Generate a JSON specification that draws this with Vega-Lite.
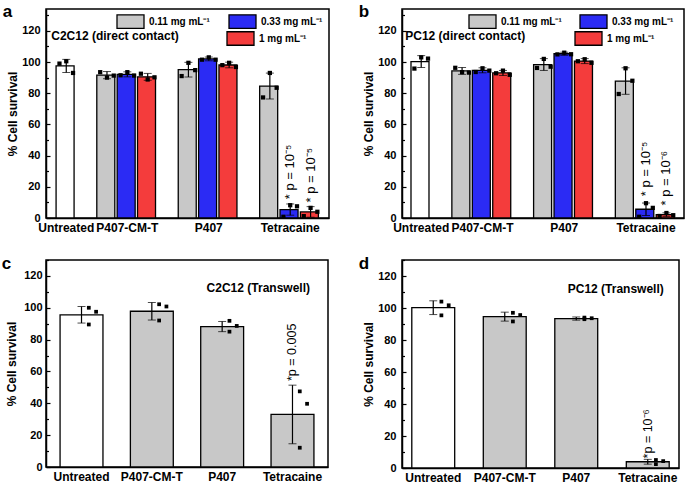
{
  "$schema": "https://vega.github.io/schema/vega-lite/v6.json",
  "background": "white",
  "padding": {"left": 0, "top": 2, "right": 2, "bottom": 0},
  "config": {
    "font": "Liberation Sans",
    "view": {"stroke": "black", "strokeWidth": 1.5},
    "axis": {"domainColor": "black", "domainWidth": 1.5, "tickColor": "black", "tickWidth": 1.2, "labelColor": "black", "labelFont": "Liberation Sans", "labelFontWeight": "bold", "labelFontSize": 11, "titleColor": "black", "titleFont": "Liberation Sans", "titleFontWeight": "bold", "titleFontSize": 12, "grid": false},
    "axisX": {"ticks": false, "labelAngle": 0, "labelFontSize": 12, "labelPadding": 4, "labelOverlap": false},
    "axisY": {"tickSize": -4, "labelPadding": 10, "titlePadding": 2},
    "legend": {"orient": "none", "title": null, "symbolType": "M-1,-0.5H1V0.5H-1Z", "symbolSize": 729, "symbolStrokeColor": "black", "symbolStrokeWidth": 1.3, "symbolOpacity": 1, "labelFontSize": 10, "labelFontWeight": "bold", "labelFont": "Liberation Sans", "labelColor": "black", "labelOffset": 4, "columnPadding": 16},
    "title": {"anchor": "start", "frame": "bounds", "fontSize": 17, "fontWeight": "bold", "font": "Liberation Sans", "color": "black", "offset": -14, "dx": -4}
  },
  "resolve": {"scale": {"color": "independent", "xOffset": "independent"}},
  "datasets": {
    "barsA": [
      {"g": "Untreated", "c": "Untreated", "m": 97.5, "e": 4.2},
      {"g": "P407-CM-T", "c": "0.11", "m": 91.6, "e": 2.3},
      {"g": "P407-CM-T", "c": "0.33", "m": 92.1, "e": 1.6},
      {"g": "P407-CM-T", "c": "1", "m": 90.5, "e": 2.2},
      {"g": "P407", "c": "0.11", "m": 95.1, "e": 4.7},
      {"g": "P407", "c": "0.33", "m": 102.0, "e": 1.2},
      {"g": "P407", "c": "1", "m": 98.1, "e": 1.8},
      {"g": "Tetracaine", "c": "0.11", "m": 84.6, "e": 8.3},
      {"g": "Tetracaine", "c": "0.33", "m": 5.4, "e": 3.6},
      {"g": "Tetracaine", "c": "1", "m": 3.9, "e": 3.4}
    ],
    "ptsA": [
      {"g": "Untreated", "c": "Untreated", "r": 1, "v": 99}, {"g": "Untreated", "c": "Untreated", "r": 2, "v": 100.5}, {"g": "Untreated", "c": "Untreated", "r": 3, "v": 93},
      {"g": "P407-CM-T", "c": "0.11", "r": 1, "v": 93.5}, {"g": "P407-CM-T", "c": "0.11", "r": 2, "v": 90}, {"g": "P407-CM-T", "c": "0.11", "r": 3, "v": 91.3},
      {"g": "P407-CM-T", "c": "0.33", "r": 1, "v": 91.5}, {"g": "P407-CM-T", "c": "0.33", "r": 2, "v": 93.5}, {"g": "P407-CM-T", "c": "0.33", "r": 3, "v": 91.3},
      {"g": "P407-CM-T", "c": "1", "r": 1, "v": 92.5}, {"g": "P407-CM-T", "c": "1", "r": 2, "v": 88.8}, {"g": "P407-CM-T", "c": "1", "r": 3, "v": 90.2},
      {"g": "P407", "c": "0.11", "r": 1, "v": 91}, {"g": "P407", "c": "0.11", "r": 2, "v": 99.5}, {"g": "P407", "c": "0.11", "r": 3, "v": 94.8},
      {"g": "P407", "c": "0.33", "r": 1, "v": 101.5}, {"g": "P407", "c": "0.33", "r": 2, "v": 103}, {"g": "P407", "c": "0.33", "r": 3, "v": 101.5},
      {"g": "P407", "c": "1", "r": 1, "v": 98}, {"g": "P407", "c": "1", "r": 2, "v": 99.5}, {"g": "P407", "c": "1", "r": 3, "v": 96.8},
      {"g": "Tetracaine", "c": "0.11", "r": 1, "v": 77.3}, {"g": "Tetracaine", "c": "0.11", "r": 2, "v": 93}, {"g": "Tetracaine", "c": "0.11", "r": 3, "v": 83.5},
      {"g": "Tetracaine", "c": "0.33", "r": 1, "v": 0.8}, {"g": "Tetracaine", "c": "0.33", "r": 2, "v": 8.2}, {"g": "Tetracaine", "c": "0.33", "r": 3, "v": 7.5},
      {"g": "Tetracaine", "c": "1", "r": 1, "v": 1.2}, {"g": "Tetracaine", "c": "1", "r": 2, "v": 6.5}, {"g": "Tetracaine", "c": "1", "r": 3, "v": 4}
    ],
    "annA": [
      {"g": "Tetracaine", "c": "0.33", "y": 12, "t": "* p = 10⁻⁵"},
      {"g": "Tetracaine", "c": "1", "y": 10, "t": "* p = 10⁻⁵"}
    ],
    "labA": [{"g": "Untreated", "c": "Untreated", "y": 117, "t": "C2C12 (direct contact)"}],
    "barsB": [
      {"g": "Untreated", "c": "Untreated", "m": 100.3, "e": 3.8},
      {"g": "P407-CM-T", "c": "0.11", "m": 94.3, "e": 2.2},
      {"g": "P407-CM-T", "c": "0.33", "m": 94.7, "e": 1.6},
      {"g": "P407-CM-T", "c": "1", "m": 93.0, "e": 1.6},
      {"g": "P407", "c": "0.11", "m": 98.4, "e": 3.8},
      {"g": "P407", "c": "0.33", "m": 105.3, "e": 1.0},
      {"g": "P407", "c": "1", "m": 100.6, "e": 1.6},
      {"g": "Tetracaine", "c": "0.11", "m": 87.8, "e": 8.5},
      {"g": "Tetracaine", "c": "0.33", "m": 5.6, "e": 4.0},
      {"g": "Tetracaine", "c": "1", "m": 2.1, "e": 1.2}
    ],
    "ptsB": [
      {"g": "Untreated", "c": "Untreated", "r": 1, "v": 95.8}, {"g": "Untreated", "c": "Untreated", "r": 2, "v": 103}, {"g": "Untreated", "c": "Untreated", "r": 3, "v": 102.2},
      {"g": "P407-CM-T", "c": "0.11", "r": 1, "v": 96.3}, {"g": "P407-CM-T", "c": "0.11", "r": 2, "v": 93.5}, {"g": "P407-CM-T", "c": "0.11", "r": 3, "v": 93.2},
      {"g": "P407-CM-T", "c": "0.33", "r": 1, "v": 93.6}, {"g": "P407-CM-T", "c": "0.33", "r": 2, "v": 96}, {"g": "P407-CM-T", "c": "0.33", "r": 3, "v": 94.5},
      {"g": "P407-CM-T", "c": "1", "r": 1, "v": 92.8}, {"g": "P407-CM-T", "c": "1", "r": 2, "v": 94.5}, {"g": "P407-CM-T", "c": "1", "r": 3, "v": 91.8},
      {"g": "P407", "c": "0.11", "r": 1, "v": 96.2}, {"g": "P407", "c": "0.11", "r": 2, "v": 102}, {"g": "P407", "c": "0.11", "r": 3, "v": 97},
      {"g": "P407", "c": "0.33", "r": 1, "v": 104.9}, {"g": "P407", "c": "0.33", "r": 2, "v": 106}, {"g": "P407", "c": "0.33", "r": 3, "v": 105},
      {"g": "P407", "c": "1", "r": 1, "v": 100.5}, {"g": "P407", "c": "1", "r": 2, "v": 101.8}, {"g": "P407", "c": "1", "r": 3, "v": 99.5},
      {"g": "Tetracaine", "c": "0.11", "r": 1, "v": 79.5}, {"g": "Tetracaine", "c": "0.11", "r": 2, "v": 96}, {"g": "Tetracaine", "c": "0.11", "r": 3, "v": 88},
      {"g": "Tetracaine", "c": "0.33", "r": 1, "v": 0.8}, {"g": "Tetracaine", "c": "0.33", "r": 2, "v": 9.5}, {"g": "Tetracaine", "c": "0.33", "r": 3, "v": 6.5},
      {"g": "Tetracaine", "c": "1", "r": 1, "v": 1.3}, {"g": "Tetracaine", "c": "1", "r": 2, "v": 3.2}, {"g": "Tetracaine", "c": "1", "r": 3, "v": 1.8}
    ],
    "annB": [
      {"g": "Tetracaine", "c": "0.33", "y": 14, "t": "* p = 10⁻⁵"},
      {"g": "Tetracaine", "c": "1", "y": 8, "t": "* p = 10⁻⁶"}
    ],
    "labB": [{"g": "Untreated", "c": "Untreated", "y": 117, "t": "PC12 (direct contact)"}],
    "barsC": [
      {"g": "Untreated", "m": 95.6, "e": 5.2},
      {"g": "P407-CM-T", "m": 97.8, "e": 5.5},
      {"g": "P407", "m": 88.2, "e": 3.2},
      {"g": "Tetracaine", "m": 33.0, "e": 18.4}
    ],
    "ptsC": [
      {"g": "Untreated", "r": 1, "v": 100}, {"g": "Untreated", "r": 2, "v": 89.5}, {"g": "Untreated", "r": 3, "v": 97.5},
      {"g": "P407-CM-T", "r": 1, "v": 102.2}, {"g": "P407-CM-T", "r": 2, "v": 92}, {"g": "P407-CM-T", "r": 3, "v": 100.8},
      {"g": "P407", "r": 1, "v": 91.8}, {"g": "P407", "r": 2, "v": 85}, {"g": "P407", "r": 3, "v": 88.6},
      {"g": "Tetracaine", "r": 1, "v": 47.5}, {"g": "Tetracaine", "r": 2, "v": 12.1}, {"g": "Tetracaine", "r": 3, "v": 39.7}
    ],
    "annC": [{"g": "Tetracaine", "y": 54, "t": "*p = 0.005"}],
    "labC": [{"g": "Tetracaine", "y": 112.5, "t": "C2C12 (Transwell)"}],
    "barsD": [
      {"g": "Untreated", "m": 100.2, "e": 4.3},
      {"g": "P407-CM-T", "m": 94.6, "e": 2.8},
      {"g": "P407", "m": 93.4, "e": 1.0},
      {"g": "Tetracaine", "m": 3.9, "e": 1.5}
    ],
    "ptsD": [
      {"g": "Untreated", "r": 1, "v": 104}, {"g": "Untreated", "r": 2, "v": 95.4}, {"g": "Untreated", "r": 3, "v": 101.7},
      {"g": "P407-CM-T", "r": 1, "v": 97}, {"g": "P407-CM-T", "r": 2, "v": 91.6}, {"g": "P407-CM-T", "r": 3, "v": 95.6},
      {"g": "P407", "r": 1, "v": 94}, {"g": "P407", "r": 2, "v": 93}, {"g": "P407", "r": 3, "v": 93.6},
      {"g": "Tetracaine", "r": 1, "v": 5}, {"g": "Tetracaine", "r": 2, "v": 2.4}, {"g": "Tetracaine", "r": 3, "v": 4.3}
    ],
    "annD": [{"g": "Tetracaine", "y": 6, "t": "*p = 10⁻⁶"}],
    "labD": [{"g": "Tetracaine", "y": 112, "t": "PC12 (Transwell)"}]
  },
  "spacing": 20,
  "vconcat": [
    {
      "spacing": 27,
      "resolve": {"scale": {"color": "independent", "xOffset": "independent"}},
      "hconcat": [
        {
          "width": 283, "height": 209,
          "title": {"text": "a"},
          "resolve": {"scale": {"color": "independent"}, "axis": {"x": "independent", "y": "independent"}},
          "layer": [
            {
              "data": {"name": "barsA"},
              "transform": [{"calculate": "datum.g + '|' + datum.c", "as": "k"}, {"filter": "datum.c != '1'"}],
              "mark": {"type": "bar", "stroke": "black", "strokeWidth": 1.3},
              "encoding": {
                "x": {"field": "k", "type": "nominal", "scale": {"domain": ["Untreated|Untreated", "gap1", "P407-CM-T|0.11", "P407-CM-T|0.33", "P407-CM-T|1", "gap2", "P407|0.11", "P407|0.33", "P407|1", "gap3", "Tetracaine|0.11", "Tetracaine|0.33", "Tetracaine|1"], "paddingInner": 0, "paddingOuter": 0.45, "align": 0.55},
                  "axis": {"title": null, "labelExpr": "datum.value == 'Untreated|Untreated' || indexof(datum.value, '|0.33') > 0 ? split(datum.value, '|')[0] : ''"}},
                "y": {"field": "m", "type": "quantitative", "scale": {"domain": [0, 134], "nice": false}, "axis": {"title": "% Cell survival", "values": [0, 20, 40, 60, 80, 100, 120]}},
                "color": {"field": "c", "type": "nominal", "scale": {"domain": ["0.11", "0.33", "Untreated"], "range": ["#c8c8c8", "#2b2bf4", "#ffffff"]},
                  "legend": {"legendX": 70, "legendY": -2, "values": ["0.11", "0.33"], "columns": 2, "direction": "horizontal", "labelExpr": "datum.value + ' mg mL⁻¹'"}}
              }
            },
            {
              "data": {"name": "barsA"},
              "transform": [{"calculate": "datum.g + '|' + datum.c", "as": "k"}, {"filter": "datum.c == '1'"}],
              "mark": {"type": "bar", "stroke": "black", "strokeWidth": 1.3},
              "encoding": {
                "x": {"field": "k", "type": "nominal", "axis": null},
                "y": {"field": "m", "type": "quantitative", "axis": null},
                "color": {"field": "c", "type": "nominal", "scale": {"domain": ["1"], "range": ["#f43c3c"]},
                  "legend": {"legendX": 180, "legendY": 15, "labelExpr": "datum.value + ' mg mL⁻¹'"}}
              }
            },
            {
              "data": {"name": "barsA"},
              "transform": [{"calculate": "datum.g + '|' + datum.c", "as": "k"}],
              "mark": {"type": "errorbar", "ticks": {"size": 8, "color": "black", "strokeWidth": 1.2}, "rule": {"color": "black", "strokeWidth": 1.2}},
              "encoding": {
                "x": {"field": "k", "type": "nominal", "axis": null},
                "y": {"field": "m", "type": "quantitative", "axis": null},
                "yError": {"field": "e"}
              }
            },
            {
              "data": {"name": "ptsA"},
              "transform": [{"calculate": "datum.g + '|' + datum.c", "as": "k"}],
              "mark": {"type": "square", "color": "black", "size": 18, "opacity": 1},
              "encoding": {
                "x": {"field": "k", "type": "nominal", "axis": null},
                "xOffset": {"field": "r", "type": "nominal", "scale": {"domain": [1, 2, 3], "paddingInner": 0, "paddingOuter": 0.5}},
                "y": {"field": "v", "type": "quantitative", "axis": {"title": null, "values": [10, 30, 50, 70, 90, 110, 130], "labels": false, "domain": false, "tickSize": -2.5, "orient": "left"}}
              }
            },
            {
              "data": {"name": "annA"},
              "transform": [{"calculate": "datum.g + '|' + datum.c", "as": "k"}],
              "mark": {"type": "text", "angle": 270, "align": "left", "baseline": "middle", "fontSize": 13, "font": "Liberation Sans", "color": "black"},
              "encoding": {
                "x": {"field": "k", "type": "nominal", "axis": null},
                "y": {"field": "y", "type": "quantitative", "axis": null},
                "text": {"field": "t"}
              }
            },
            {
              "data": {"name": "labA"},
              "transform": [{"calculate": "datum.g + '|' + datum.c", "as": "k"}],
              "mark": {"type": "text", "align": "left", "baseline": "middle", "fontSize": 12, "fontWeight": "bold", "font": "Liberation Sans", "color": "black", "dx": -15},
              "encoding": {
                "x": {"field": "k", "type": "nominal", "axis": null},
                "y": {"field": "y", "type": "quantitative", "axis": null},
                "text": {"field": "t"}
              }
            }
          ]
        },
        {
          "width": 282, "height": 209,
          "title": {"text": "b"},
          "resolve": {"scale": {"color": "independent"}, "axis": {"x": "independent", "y": "independent"}},
          "layer": [
            {
              "data": {"name": "barsB"},
              "transform": [{"calculate": "datum.g + '|' + datum.c", "as": "k"}, {"filter": "datum.c != '1'"}],
              "mark": {"type": "bar", "stroke": "black", "strokeWidth": 1.3},
              "encoding": {
                "x": {"field": "k", "type": "nominal", "scale": {"domain": ["Untreated|Untreated", "gap1", "P407-CM-T|0.11", "P407-CM-T|0.33", "P407-CM-T|1", "gap2", "P407|0.11", "P407|0.33", "P407|1", "gap3", "Tetracaine|0.11", "Tetracaine|0.33", "Tetracaine|1"], "paddingInner": 0, "paddingOuter": 0.4, "align": 0.55},
                  "axis": {"title": null, "labelExpr": "datum.value == 'Untreated|Untreated' || indexof(datum.value, '|0.33') > 0 ? split(datum.value, '|')[0] : ''"}},
                "y": {"field": "m", "type": "quantitative", "scale": {"domain": [0, 134], "nice": false}, "axis": {"title": "% Cell survival", "values": [0, 20, 40, 60, 80, 100, 120]}},
                "color": {"field": "c", "type": "nominal", "scale": {"domain": ["0.11", "0.33", "Untreated"], "range": ["#c8c8c8", "#2b2bf4", "#ffffff"]},
                  "legend": {"legendX": 66, "legendY": -2, "values": ["0.11", "0.33"], "columns": 2, "direction": "horizontal", "columnPadding": 15, "labelExpr": "datum.value + ' mg mL⁻¹'"}}
              }
            },
            {
              "data": {"name": "barsB"},
              "transform": [{"calculate": "datum.g + '|' + datum.c", "as": "k"}, {"filter": "datum.c == '1'"}],
              "mark": {"type": "bar", "stroke": "black", "strokeWidth": 1.3},
              "encoding": {
                "x": {"field": "k", "type": "nominal", "axis": null},
                "y": {"field": "m", "type": "quantitative", "axis": null},
                "color": {"field": "c", "type": "nominal", "scale": {"domain": ["1"], "range": ["#f43c3c"]},
                  "legend": {"legendX": 172, "legendY": 15, "labelExpr": "datum.value + ' mg mL⁻¹'"}}
              }
            },
            {
              "data": {"name": "barsB"},
              "transform": [{"calculate": "datum.g + '|' + datum.c", "as": "k"}],
              "mark": {"type": "errorbar", "ticks": {"size": 8, "color": "black", "strokeWidth": 1.2}, "rule": {"color": "black", "strokeWidth": 1.2}},
              "encoding": {
                "x": {"field": "k", "type": "nominal", "axis": null},
                "y": {"field": "m", "type": "quantitative", "axis": null},
                "yError": {"field": "e"}
              }
            },
            {
              "data": {"name": "ptsB"},
              "transform": [{"calculate": "datum.g + '|' + datum.c", "as": "k"}],
              "mark": {"type": "square", "color": "black", "size": 18, "opacity": 1},
              "encoding": {
                "x": {"field": "k", "type": "nominal", "axis": null},
                "xOffset": {"field": "r", "type": "nominal", "scale": {"domain": [1, 2, 3], "paddingInner": 0, "paddingOuter": 0.5}},
                "y": {"field": "v", "type": "quantitative", "axis": {"title": null, "values": [10, 30, 50, 70, 90, 110, 130], "labels": false, "domain": false, "tickSize": -2.5, "orient": "left"}}
              }
            },
            {
              "data": {"name": "annB"},
              "transform": [{"calculate": "datum.g + '|' + datum.c", "as": "k"}],
              "mark": {"type": "text", "angle": 270, "align": "left", "baseline": "middle", "fontSize": 13, "font": "Liberation Sans", "color": "black"},
              "encoding": {
                "x": {"field": "k", "type": "nominal", "axis": null},
                "y": {"field": "y", "type": "quantitative", "axis": null},
                "text": {"field": "t"}
              }
            },
            {
              "data": {"name": "labB"},
              "transform": [{"calculate": "datum.g + '|' + datum.c", "as": "k"}],
              "mark": {"type": "text", "align": "left", "baseline": "middle", "fontSize": 12, "fontWeight": "bold", "font": "Liberation Sans", "color": "black", "dx": -16},
              "encoding": {
                "x": {"field": "k", "type": "nominal", "axis": null},
                "y": {"field": "y", "type": "quantitative", "axis": null},
                "text": {"field": "t"}
              }
            }
          ]
        }
      ]
    },
    {
      "spacing": 28,
      "hconcat": [
        {
          "width": 282, "height": 207,
          "title": {"text": "c"},
          "resolve": {"axis": {"x": "independent", "y": "independent"}},
          "layer": [
            {
              "data": {"name": "barsC"},
              "mark": {"type": "bar", "stroke": "black", "strokeWidth": 1.3},
              "encoding": {
                "x": {"field": "g", "type": "nominal", "sort": null, "scale": {"domain": ["Untreated", "P407-CM-T", "P407", "Tetracaine"], "paddingInner": 0.39, "paddingOuter": 0.2}, "axis": {"title": null}},
                "y": {"field": "m", "type": "quantitative", "scale": {"domain": [0, 130], "nice": false}, "axis": {"title": "% Cell survival", "values": [0, 20, 40, 60, 80, 100, 120], "labelPadding": 8, "titlePadding": 5}},
                "color": {"condition": {"test": "datum.g == 'Untreated'", "value": "#ffffff"}, "value": "#c8c8c8"}
              }
            },
            {
              "data": {"name": "barsC"},
              "mark": {"type": "errorbar", "ticks": {"size": 8, "color": "black", "strokeWidth": 1.2}, "rule": {"color": "black", "strokeWidth": 1.2}},
              "encoding": {
                "x": {"field": "g", "type": "nominal", "axis": null},
                "y": {"field": "m", "type": "quantitative", "axis": null},
                "yError": {"field": "e"}
              }
            },
            {
              "data": {"name": "ptsC"},
              "transform": [{"filter": "datum.r != 3"}],
              "mark": {"type": "square", "color": "black", "size": 14, "opacity": 1},
              "encoding": {
                "x": {"field": "g", "type": "nominal", "bandPosition": 0.67, "axis": null},
                "y": {"field": "v", "type": "quantitative", "axis": {"title": null, "values": [10, 30, 50, 70, 90, 110, 130], "labels": false, "domain": false, "tickSize": -2.5, "orient": "left"}}
              }
            },
            {
              "data": {"name": "ptsC"},
              "transform": [{"filter": "datum.r == 3"}],
              "mark": {"type": "square", "color": "black", "size": 14, "opacity": 1},
              "encoding": {
                "x": {"field": "g", "type": "nominal", "bandPosition": 0.84, "axis": null},
                "y": {"field": "v", "type": "quantitative", "axis": null}
              }
            },
            {
              "data": {"name": "annC"},
              "mark": {"type": "text", "angle": 270, "align": "left", "baseline": "middle", "fontSize": 12.5, "font": "Liberation Sans", "color": "black"},
              "encoding": {
                "x": {"field": "g", "type": "nominal", "axis": null},
                "y": {"field": "y", "type": "quantitative", "axis": null},
                "text": {"field": "t"}
              }
            },
            {
              "data": {"name": "labC"},
              "mark": {"type": "text", "align": "right", "baseline": "middle", "fontSize": 12, "fontWeight": "bold", "font": "Liberation Sans", "color": "black", "dx": 17.5},
              "encoding": {
                "x": {"field": "g", "type": "nominal", "axis": null},
                "y": {"field": "y", "type": "quantitative", "axis": null},
                "text": {"field": "t"}
              }
            }
          ]
        },
        {
          "width": 277, "height": 208,
          "title": {"text": "d"},
          "resolve": {"axis": {"x": "independent", "y": "independent"}},
          "layer": [
            {
              "data": {"name": "barsD"},
              "mark": {"type": "bar", "stroke": "black", "strokeWidth": 1.3},
              "encoding": {
                "x": {"field": "g", "type": "nominal", "sort": null, "scale": {"domain": ["Untreated", "P407-CM-T", "P407", "Tetracaine"], "paddingInner": 0.4, "paddingOuter": 0.137}, "axis": {"title": null}},
                "y": {"field": "m", "type": "quantitative", "scale": {"domain": [0, 130], "nice": false}, "axis": {"title": "% Cell survival", "values": [0, 20, 40, 60, 80, 100, 120]}},
                "color": {"condition": {"test": "datum.g == 'Untreated'", "value": "#ffffff"}, "value": "#c8c8c8"}
              }
            },
            {
              "data": {"name": "barsD"},
              "mark": {"type": "errorbar", "ticks": {"size": 8, "color": "black", "strokeWidth": 1.2}, "rule": {"color": "black", "strokeWidth": 1.2}},
              "encoding": {
                "x": {"field": "g", "type": "nominal", "axis": null},
                "y": {"field": "m", "type": "quantitative", "axis": null},
                "yError": {"field": "e"}
              }
            },
            {
              "data": {"name": "ptsD"},
              "transform": [{"filter": "datum.r != 3"}],
              "mark": {"type": "square", "color": "black", "size": 14, "opacity": 1},
              "encoding": {
                "x": {"field": "g", "type": "nominal", "bandPosition": 0.69, "axis": null},
                "y": {"field": "v", "type": "quantitative", "axis": {"title": null, "values": [10, 30, 50, 70, 90, 110, 130], "labels": false, "domain": false, "tickSize": -2.5, "orient": "left"}}
              }
            },
            {
              "data": {"name": "ptsD"},
              "transform": [{"filter": "datum.r == 3"}],
              "mark": {"type": "square", "color": "black", "size": 14, "opacity": 1},
              "encoding": {
                "x": {"field": "g", "type": "nominal", "bandPosition": 0.86, "axis": null},
                "y": {"field": "v", "type": "quantitative", "axis": null}
              }
            },
            {
              "data": {"name": "annD"},
              "mark": {"type": "text", "angle": 270, "align": "left", "baseline": "middle", "fontSize": 12.5, "font": "Liberation Sans", "color": "black"},
              "encoding": {
                "x": {"field": "g", "type": "nominal", "axis": null},
                "y": {"field": "y", "type": "quantitative", "axis": null},
                "text": {"field": "t"}
              }
            },
            {
              "data": {"name": "labD"},
              "mark": {"type": "text", "align": "right", "baseline": "middle", "fontSize": 12, "fontWeight": "bold", "font": "Liberation Sans", "color": "black", "dx": 16},
              "encoding": {
                "x": {"field": "g", "type": "nominal", "axis": null},
                "y": {"field": "y", "type": "quantitative", "axis": null},
                "text": {"field": "t"}
              }
            }
          ]
        }
      ]
    }
  ]
}
